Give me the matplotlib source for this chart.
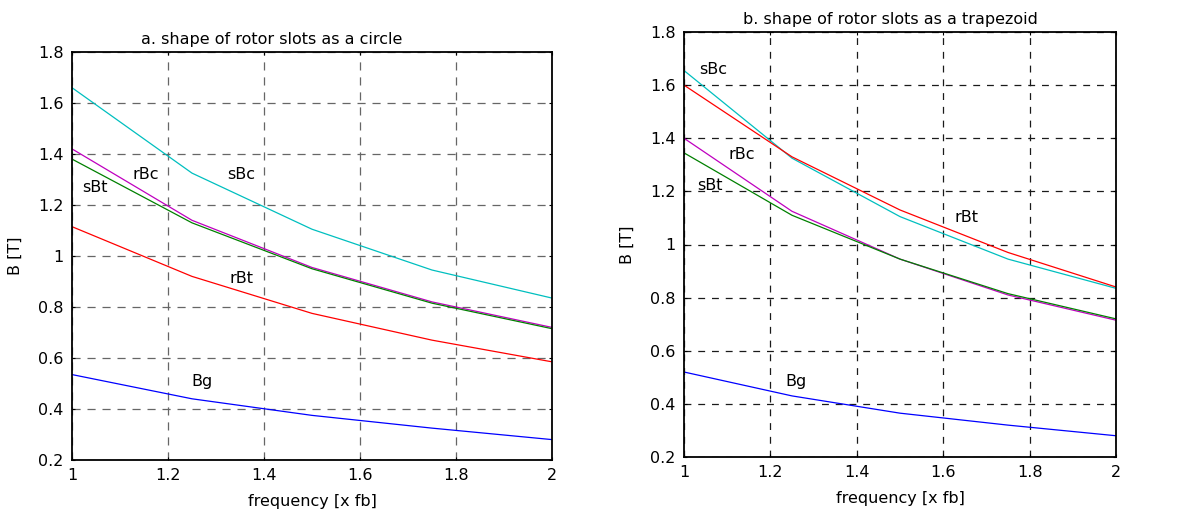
import matplotlib
matplotlib.use("Agg")
import matplotlib.pyplot as plt
import numpy as np

plt.rcParams['font.family'] = ['DejaVu Sans']

freq = [1.0, 1.25, 1.5, 1.75, 2.0]

# a. circle
a_sBc = [1.66, 1.325, 1.105, 0.945, 0.835]
a_rBc = [1.42, 1.14, 0.955, 0.82, 0.72]
a_sBt = [1.38, 1.13, 0.95, 0.815, 0.715]
a_rBt = [1.115, 0.92, 0.775, 0.67, 0.585]
a_Bg = [0.535, 0.44, 0.375, 0.325, 0.28]

# b. trapezoid
b_sBc = [1.655, 1.325, 1.105, 0.945, 0.835]
b_rBt = [1.60, 1.33, 1.13, 0.97, 0.84]
b_rBc = [1.40, 1.125, 0.945, 0.81, 0.715]
b_sBt = [1.345, 1.11, 0.945, 0.815, 0.72]
b_Bg = [0.52, 0.43, 0.365, 0.32, 0.28]

xticks = [1, 1.2, 1.4, 1.6, 1.8, 2]
xticklabels = ['1', '1.2', '1.4', '1.6', '1.8', '2']
yticks = [0.2, 0.4, 0.6, 0.8, 1.0, 1.2, 1.4, 1.6, 1.8]
yticklabels = ['0.2', '0.4', '0.6', '0.8', '1', '1.2', '1.4', '1.6', '1.8']

C_CYAN = (0, 0.75, 0.75)
C_MAG = (0.75, 0, 0.75)
C_GREEN = (0, 0.5, 0)
C_RED = (1, 0, 0)
C_BLUE = (0, 0, 1)

W, H = 1197, 515
fig = plt.figure(figsize=(W / 100, H / 100), dpi=100)
fig.patch.set_facecolor('white')


def make_ax(l, t, w, h):
    return fig.add_axes([l / W, (H - t - h) / H, w / W, h / H])


axA = make_ax(72, 52, 480, 408)
axB = make_ax(684, 32, 432, 425)

FS = 11.5


def style(ax, gridcolor, dash):
    ax.set_xlim(1, 2)
    ax.set_ylim(0.2, 1.8)
    ax.set_xticks(xticks)
    ax.set_xticklabels(xticklabels)
    ax.set_yticks(yticks)
    ax.set_yticklabels(yticklabels)
    ax.tick_params(direction='in', length=2.5, width=0.8, labelsize=FS,
                   top=True, right=True, pad=6)
    ax.grid(True, color=gridcolor, linestyle=(0, dash), linewidth=0.9)
    for s in ax.spines.values():
        s.set_linewidth(1.3)
        s.set_color('black')
    ax.set_xlabel('frequency [x fb]', fontsize=FS, labelpad=8)
    ax.set_ylabel('B [T]', fontsize=FS, labelpad=11)


lw = 0.9
axA.plot(freq, a_sBc, color=C_CYAN, lw=lw)
axA.plot(freq, a_rBc, color=C_MAG, lw=lw)
axA.plot(freq, a_sBt, color=C_GREEN, lw=lw)
axA.plot(freq, a_rBt, color=C_RED, lw=lw)
axA.plot(freq, a_Bg, color=C_BLUE, lw=lw)
style(axA, '0.4', (6.5, 5.5))
axA.text(0.417, 1.012, 'a. shape of rotor slots as a circle', transform=axA.transAxes,
         ha='center', va='bottom', fontsize=FS)
axA.text(1.154, 1.318, 'rBc', ha='center', va='center', fontsize=FS)
axA.text(1.048, 1.27, 'sBt', ha='center', va='center', fontsize=FS)
axA.text(1.352, 1.318, 'sBc', ha='center', va='center', fontsize=FS)
axA.text(1.354, 0.91, 'rBt', ha='center', va='center', fontsize=FS)
axA.text(1.271, 0.506, 'Bg', ha='center', va='center', fontsize=FS)

axB.plot(freq, b_sBc, color=C_CYAN, lw=lw)
axB.plot(freq, b_rBt, color=C_RED, lw=lw)
axB.plot(freq, b_rBc, color=C_MAG, lw=lw)
axB.plot(freq, b_sBt, color=C_GREEN, lw=lw)
axB.plot(freq, b_Bg, color=C_BLUE, lw=lw)
style(axB, '0.1', (5.5, 5.5))
axB.text(0.479, 1.012, 'b. shape of rotor slots as a trapezoid', transform=axB.transAxes,
         ha='center', va='bottom', fontsize=FS)
axB.text(1.067, 1.66, 'sBc', ha='center', va='center', fontsize=FS)
axB.text(1.134, 1.34, 'rBc', ha='center', va='center', fontsize=FS)
axB.text(1.06, 1.224, 'sBt', ha='center', va='center', fontsize=FS)
axB.text(1.653, 1.10, 'rBt', ha='center', va='center', fontsize=FS)
axB.text(1.26, 0.486, 'Bg', ha='center', va='center', fontsize=FS)

fig.savefig('out.png', dpi=100)
